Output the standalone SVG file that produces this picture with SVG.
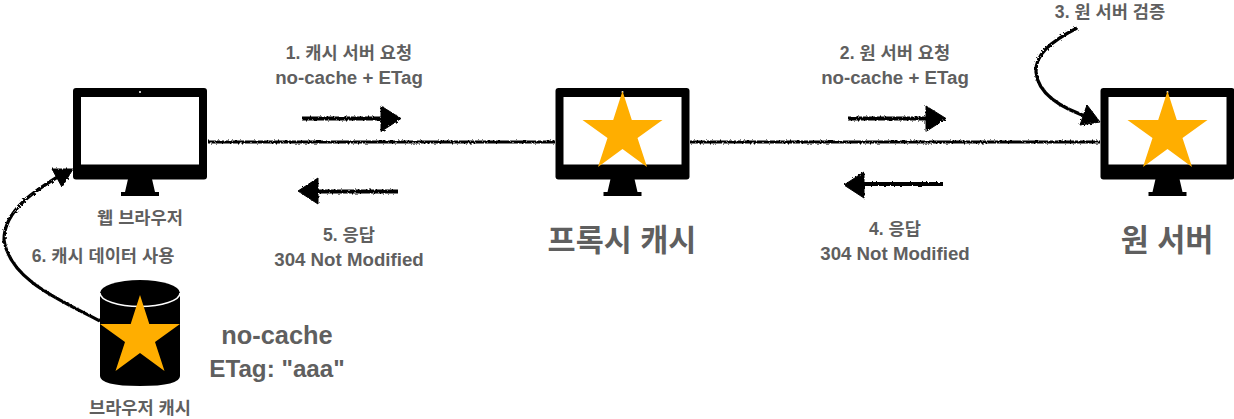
<svg xmlns="http://www.w3.org/2000/svg" width="1234" height="419" viewBox="0 0 1234 419">
<style>
text{font-family:"Liberation Sans","Noto Sans CJK KR",sans-serif;font-weight:700;fill:#5f5f5f;text-anchor:middle}
.s{font-size:17.6px}.e{font-size:18.7px}.l{font-size:30.5px}
.c{fill:none;stroke:#000;stroke-width:3.200}
.a{fill:none;stroke:#000;stroke-width:4}
.h{fill:#000;stroke:#000;stroke-width:1}
.star{fill:#ffae00}
</style>
<defs>
<filter id="r" x="0" y="0" width="1234" height="419" filterUnits="userSpaceOnUse"><feTurbulence type="fractalNoise" baseFrequency="0.5" numOctaves="2" seed="3"/><feDisplacementMap in="SourceGraphic" scale="3"/></filter>
<g id="mon"><rect x="0" y="0" width="134" height="91.500" rx="3" fill="#000"/><rect x="8" y="9" width="118" height="67.500" fill="#fff"/><circle cx="67" cy="4" r="1" fill="#fff"/><path d="M55 91h24l3 13h-30zM48 104h38v4h-38z" fill="#000"/></g>
<polygon id="st" class="star" points="0,-33 9.300,-4 40,-4 15,14 24.500,43 0,25 -24.500,43 -15,14 -40,-4 -9.300,-4"/>
</defs>
<g id="connectors" filter="url(#r)">
<path class="c" d="M208 142H555M690 142H1100"/>
<path class="a" d="M302 118.500H385M398 191.500H315M848 118.500H930M943 184H860"/>
<path class="h" d="M381 106L401 118.500L381 131.500ZM318 178L298 191L318 204ZM926 106L946 118.500L926 131.500ZM864 172L844 185L864 198Z"/>
<path class="c" d="M100 321C60 300 10 280 4 240C4 210 35 190 66 172"/>
<path class="h" d="M52 169L73 169L62 187Z"/>
<path class="c" d="M1077 28C1050 42 1035 55 1036 72C1038 95 1065 110 1094 119"/>
<path class="h" d="M1087 105L1100 122L1080 125Z"/>
</g>
<g id="browser"><use href="#mon" x="73" y="88"/><text class="s" x="140" y="224">웹 브라우저</text></g>
<g id="proxy"><use href="#mon" x="555.500" y="88"/><use href="#st" x="622.500" y="124"/><text class="l" x="622" y="251">프록시 캐시</text></g>
<g id="origin"><use href="#mon" x="1100.500" y="88"/><use href="#st" x="1167.500" y="124"/><text class="l" x="1167" y="251">원 서버</text></g>
<g id="cache">
<path d="M100 293H180V376Q180 386 140 386Q100 386 100 376Z" fill="#000"/>
<ellipse cx="140" cy="293" rx="40" ry="13" fill="#000"/>
<path d="M100 293A40 13.500 0 0 0 180 293" fill="none" stroke="#fff" stroke-width="1.500"/>
<use href="#st" x="140" y="328"/>
<text class="s" x="140" y="414">브라우저 캐시</text>
</g>
<g id="labels">
<text class="s" x="349" y="59">1. 캐시 서버 요청</text><text class="e" x="349" y="84">no-cache + ETag</text>
<text class="s" x="895" y="59">2. 원 서버 요청</text><text class="e" x="895" y="84">no-cache + ETag</text>
<text class="s" x="1110" y="18">3. 원 서버 검증</text>
<text class="s" x="895" y="235">4. 응답</text><text class="e" x="895" y="260">304 Not Modified</text>
<text class="s" x="349" y="241">5. 응답</text><text class="e" x="349" y="266">304 Not Modified</text>
<text class="s" x="103" y="262">6. 캐시 데이터 사용</text>
<text font-size="25.400" x="277" y="344">no-cache</text>
<text font-size="24.200" x="277" y="377">ETag: "aaa"</text>
</g>
</svg>
